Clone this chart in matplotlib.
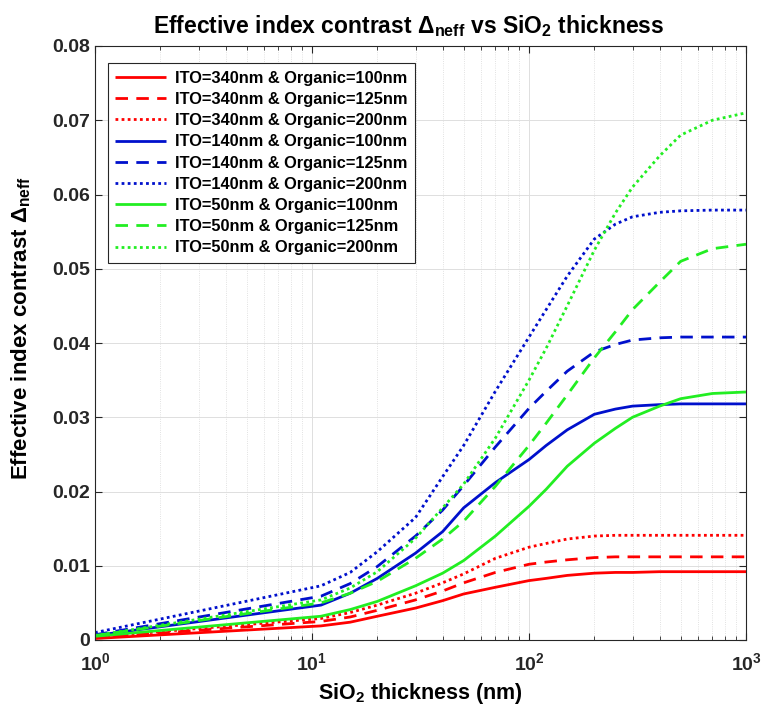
import matplotlib
matplotlib.use('Agg')
import matplotlib.pyplot as plt
from matplotlib import font_manager
from matplotlib.ticker import FixedLocator, NullFormatter

names = {f.name for f in font_manager.fontManager.ttflist}
narrow = 'Liberation Sans Narrow' if 'Liberation Sans Narrow' in names else 'Liberation Sans'

plt.rcParams['font.family'] = [narrow, 'DejaVu Sans']
plt.rcParams['font.weight'] = 'bold'
plt.rcParams['mathtext.fontset'] = 'custom'
plt.rcParams['mathtext.rm'] = narrow + ':bold'
plt.rcParams['mathtext.it'] = narrow + ':bold'
plt.rcParams['mathtext.bf'] = narrow + ':bold'

# SiO2 thickness (nm)
thickness = [1, 11, 15, 20, 30, 40, 50, 70, 100, 120, 150, 200, 250, 300, 400, 500, 700, 1000]

# effective index contrast
ito340_org100 = [0.0002, 0.0019, 0.0024, 0.0032, 0.0043, 0.0053, 0.0062, 0.0071, 0.0080, 0.0083, 0.0087, 0.0090, 0.0091, 0.0091, 0.0092, 0.0092, 0.0092, 0.0092]
ito340_org125 = [0.0003, 0.0025, 0.0031, 0.0040, 0.0054, 0.0066, 0.0077, 0.0091, 0.0102, 0.0105, 0.0108, 0.0111, 0.0112, 0.0112, 0.0112, 0.0112, 0.0112, 0.0112]
ito340_org200 = [0.0004, 0.0029, 0.0037, 0.0047, 0.0063, 0.0077, 0.0089, 0.0110, 0.0125, 0.0130, 0.0136, 0.0140, 0.0141, 0.0141, 0.0141, 0.0141, 0.0141, 0.0141]
ito140_org100 = [0.0006, 0.0047, 0.0063, 0.0083, 0.0117, 0.0146, 0.0178, 0.0212, 0.0243, 0.0262, 0.0283, 0.0304, 0.0311, 0.0315, 0.0317, 0.0318, 0.0318, 0.0318]
ito140_org125 = [0.0007, 0.0059, 0.0076, 0.0099, 0.0140, 0.0175, 0.0208, 0.0260, 0.0312, 0.0335, 0.0362, 0.0388, 0.0398, 0.0404, 0.0407, 0.0408, 0.0408, 0.0408]
ito140_org200 = [0.0010, 0.0073, 0.0091, 0.0119, 0.0165, 0.0220, 0.0262, 0.0335, 0.0408, 0.0445, 0.0490, 0.0540, 0.0560, 0.0570, 0.0576, 0.0578, 0.0579, 0.0579]
ito50_org100 = [0.0005, 0.0032, 0.0041, 0.0052, 0.0073, 0.0090, 0.0107, 0.0140, 0.0180, 0.0203, 0.0234, 0.0265, 0.0285, 0.0300, 0.0315, 0.0325, 0.0332, 0.0334]
ito50_org125 = [0.0006, 0.0050, 0.0063, 0.0079, 0.0110, 0.0136, 0.0160, 0.0207, 0.0262, 0.0292, 0.0330, 0.0380, 0.0415, 0.0445, 0.0482, 0.0510, 0.0527, 0.0533]
ito50_org200 = [0.0006, 0.0054, 0.0070, 0.0092, 0.0137, 0.0178, 0.0210, 0.0272, 0.0350, 0.0393, 0.0450, 0.0525, 0.0575, 0.0610, 0.0652, 0.0680, 0.0700, 0.0710]

labels = ['ITO=340nm & Organic=100nm', 'ITO=340nm & Organic=125nm', 'ITO=340nm & Organic=200nm',
          'ITO=140nm & Organic=100nm', 'ITO=140nm & Organic=125nm', 'ITO=140nm & Organic=200nm',
          'ITO=50nm & Organic=100nm', 'ITO=50nm & Organic=125nm', 'ITO=50nm & Organic=200nm']
series = [ito340_org100, ito340_org125, ito340_org200,
          ito140_org100, ito140_org125, ito140_org200,
          ito50_org100, ito50_org125, ito50_org200]
colors = ['#ff0000'] * 3 + ['#0010cc'] * 3 + ['#22ee22'] * 3
styles = [(0, ()), (0, (4.5, 3)), (0, (1, 1.2))] * 3

fig = plt.figure(figsize=(7.63, 7.15), dpi=100)
ax = fig.add_axes([95 / 763, 75 / 715, 651 / 763, 594 / 715])

for y, lab, c, ls in zip(series, labels, colors, styles):
    ax.plot(thickness, y, color=c, linestyle=ls, lw=2, label=lab)

ax.set_xscale('log')
ax.set_xlim(1, 1000)
ax.set_ylim(0, 0.08)

ax.xaxis.set_major_locator(FixedLocator([1, 10, 100, 1000]))
ax.set_xticklabels([r'$10^{0}$', r'$10^{1}$', r'$10^{2}$', r'$10^{3}$'])
minors = [m * d for d in [1, 10, 100] for m in range(2, 10)]
ax.xaxis.set_minor_locator(FixedLocator(minors))
ax.xaxis.set_minor_formatter(NullFormatter())

yt = [0, 0.01, 0.02, 0.03, 0.04, 0.05, 0.06, 0.07, 0.08]
ax.set_yticks(yt)
ax.set_yticklabels(['0', '0.01', '0.02', '0.03', '0.04', '0.05', '0.06', '0.07', '0.08'])

ax.tick_params(which='both', direction='in', top=True, right=True, colors='#262626', labelsize=14)
ax.tick_params(which='major', length=5, width=0.8)
ax.tick_params(which='minor', length=3, width=0.6)
ax.tick_params(axis='x', which='major', pad=9)
for s in ax.spines.values():
    s.set_color('#262626')
    s.set_linewidth(0.8)

ax.grid(True, which='major', color='#dedede', lw=0.7)
ax.grid(True, which='minor', axis='x', color='#d8d8d8', lw=0.6, linestyle=':')
ax.set_axisbelow(True)

ax.set_title(r'Effective index contrast $\Delta_{neff}$ vs SiO$_2$ thickness', fontsize=16.5, fontweight='bold', pad=9)
ax.title.set_x(0.482)
ax.set_xlabel(r'SiO$_2$ thickness (nm)', fontsize=15.5, fontweight='bold', labelpad=5)
ax.set_ylabel(r'Effective index contrast $\Delta_{neff}$', fontsize=16, fontweight='bold')
ax.yaxis.set_label_coords(-0.095, 0.525)

leg = ax.legend(loc='upper left', bbox_to_anchor=(0.02, 0.971), borderaxespad=0, fontsize=11.8,
                handlelength=3.1, handletextpad=0.55, labelspacing=0.38, borderpad=0.45,
                fancybox=False, framealpha=1, edgecolor='#262626')
leg.get_frame().set_linewidth(0.8)

fig.savefig('out.png', dpi=100)
